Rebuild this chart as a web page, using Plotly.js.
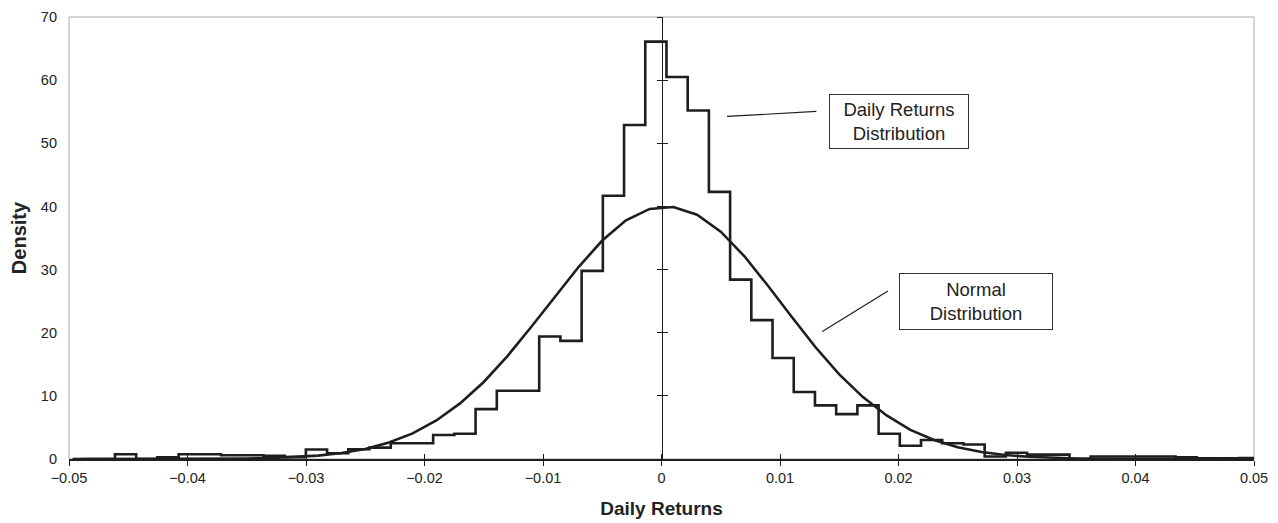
<!DOCTYPE html>
<html><head><meta charset="utf-8">
<script src="https://cdn.plot.ly/plotly-3.0.1.min.js"></script>
<style>html,body{margin:0;padding:0;background:#fff}#chart{width:1278px;height:523px}</style>
</head><body><div id="chart"></div>
<script>
// Histogram of daily returns (density), equal-width bins
const binStart = -0.0497;
const binWidth = 0.00179;
const histDensity = [0,0,0.76,0,0.25,0.75,0.75,0.6,0.6,0.5,0.3,1.5,0.9,1.55,1.8,2.5,2.5,3.8,4.0,7.9,10.8,10.8,19.4,18.7,29.8,41.7,52.9,66.1,
  60.5,55.2,42.3,28.4,22.0,16.0,10.6,8.5,7.1,8.5,4.0,2.1,3.0,2.5,2.3,0.4,1.0,0.7,0.7,0,0.4,0.4,0.4,0.4,0.25,0.1,0.1,0.15];

// Normal distribution curve
const normX = [-0.049,-0.047,-0.045,-0.043,-0.041,-0.039,-0.037,-0.035,-0.033,-0.031,-0.029,-0.027,-0.025,-0.023,-0.021,-0.019,-0.017,-0.015,-0.013,-0.011,-0.009,-0.007,-0.005,-0.003,-0.001,
  0.001,0.003,0.005,0.007,0.009,0.011,0.013,0.015,0.017,0.019,0.021,0.023,0.025,0.027,0.029,0.031,0.033,0.035,0.037,0.039,0.041,0.043,0.045,0.047,0.049];
const normY = [0,0,0,0,0.01,0.02,0.04,0.08,0.15,0.29,0.53,0.94,1.59,2.6,4.05,6.1,8.8,12.2,16.3,20.9,25.7,30.4,34.6,37.8,39.6,
  39.9,38.7,36.0,32.1,27.4,22.5,17.7,13.4,9.8,6.9,4.6,3.0,1.85,1.1,0.63,0.35,0.19,0.09,0.04,0.02,0.01,0,0,0,0];

const xTickVals = [-0.05,-0.04,-0.03,-0.02,-0.01,0,0.01,0.02,0.03,0.04,0.05];
const xTickText = ['\u22120.05','\u22120.04','\u22120.03','\u22120.02','\u22120.01','0','0.01','0.02','0.03','0.04','0.05'];
const yTickVals = [0,10,20,30,40,50,60,70];

// build step outline
const sx = [binStart], sy = [0];
for (let i = 0; i < histDensity.length; i++) { sx.push(binStart + i*binWidth); sy.push(histDensity[i]); }
sx.push(binStart + histDensity.length*binWidth); sy.push(0);

const ink = '#1e1e1e';
const FONT = '"Liberation Sans", Arial, Helvetica, sans-serif';

const traces = [
  {x: sx, y: sy, type:'scatter', mode:'lines', line:{shape:'hv', color:ink, width:2.6}, hoverinfo:'skip', showlegend:false},
  {x: normX, y: normY, type:'scatter', mode:'lines', line:{color:ink, width:2.6}, hoverinfo:'skip', showlegend:false}
];

const layout = {
  width:1278, height:523,
  margin:{l:69, r:24, t:17, b:64},
  paper_bgcolor:'#fff', plot_bgcolor:'#fff',
  font:{family:FONT, color:'#222', size:15},
  showlegend:false,
  xaxis:{range:[-0.05,0.05], tickvals:xTickVals, ticktext:xTickText, ticks:'outside', ticklen:5, tickwidth:1, tickcolor:ink,
    showline:true, linecolor:ink, linewidth:1.5, zeroline:false, showgrid:false, tickfont:{size:14.5},
    title:{text:'<b>Daily Returns</b>', font:{size:19}, standoff:17}},
  xaxis2:{range:[-0.05,0.05], overlaying:'x', anchor:'y', side:'bottom', tickvals:xTickVals, ticks:'inside', ticklen:5, tickwidth:1, tickcolor:ink,
    showticklabels:false, showline:false, zeroline:false, showgrid:false},
  yaxis:{range:[0,70], tickvals:yTickVals, ticks:'', showline:false, zeroline:false, showgrid:false, tickfont:{size:14.5},
    ticklabelstandoff:11, title:{text:'<b>Density</b>', font:{size:20}, standoff:8}},
  yaxis2:{range:[0,70], overlaying:'y', anchor:'free', position:0.5, tickvals:yTickVals, ticks:'outside', ticklen:5, tickwidth:1, tickcolor:ink,
    showticklabels:false, showline:true, linecolor:ink, linewidth:1, zeroline:false, showgrid:false},
  yaxis3:{range:[0,70], overlaying:'y', anchor:'free', position:0.5, tickvals:yTickVals, ticks:'inside', ticklen:5, tickwidth:1, tickcolor:ink,
    showticklabels:false, showline:false, zeroline:false, showgrid:false},
  shapes:[
    {type:'rect', xref:'paper', yref:'paper', x0:0, x1:1, y0:0, y1:1, line:{color:'#a8a8a8', width:1}, layer:'below'},
    {type:'line', xref:'x', yref:'y', x0:0.00553, y0:54.25, x1:0.01307, y1:55.04, line:{color:ink, width:1.2}},
    {type:'line', xref:'x', yref:'y', x0:0.01357, y0:20.19, x1:0.01911, y1:26.59, line:{color:ink, width:1.2}}
  ],
  annotations:[
    {x:0.0200, y:53.45, xref:'x', yref:'y', text:'Daily Returns<br>Distribution', showarrow:false, font:{size:18.5, color:'#222'},
      bordercolor:'#333', borderwidth:1, borderpad:1, width:136, height:51, bgcolor:'#fff', align:'center'},
    {x:0.0265, y:24.9, xref:'x', yref:'y', text:'Normal<br>Distribution', showarrow:false, font:{size:18.5, color:'#222'},
      bordercolor:'#333', borderwidth:1, borderpad:1, width:150, height:53, bgcolor:'#fff', align:'center'}
  ]
};

// dummy traces so overlay axes are drawn
traces.push({x:[0], y:[0], xaxis:'x2', yaxis:'y2', mode:'markers', marker:{opacity:0}, hoverinfo:'skip', showlegend:false});
traces.push({x:[0], y:[0], xaxis:'x', yaxis:'y3', mode:'markers', marker:{opacity:0}, hoverinfo:'skip', showlegend:false});

Plotly.newPlot('chart', traces, layout, {displayModeBar:false, staticPlot:true});
</script>
</body></html>
